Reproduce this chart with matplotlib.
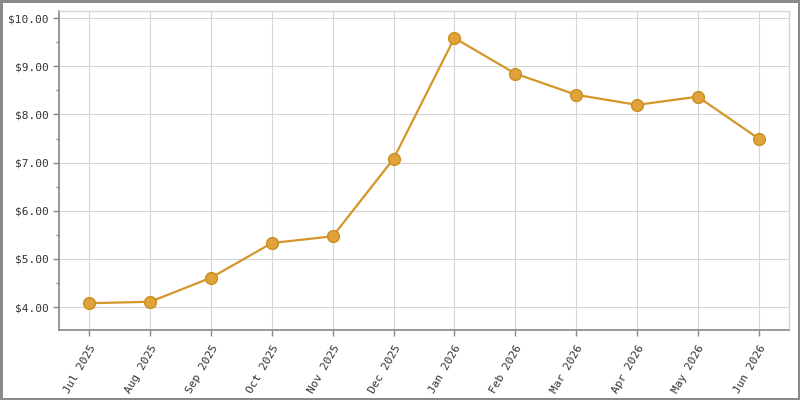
import matplotlib
matplotlib.use("Agg")
import matplotlib.pyplot as plt
from matplotlib.ticker import MultipleLocator, FuncFormatter

# monthly values
months = ["Jul 2025", "Aug 2025", "Sep 2025", "Oct 2025", "Nov 2025", "Dec 2025",
          "Jan 2026", "Feb 2026", "Mar 2026", "Apr 2026", "May 2026", "Jun 2026"]
prices = [4.08, 4.11, 4.61, 5.33, 5.47, 7.08, 9.59, 8.85, 8.41, 8.20, 8.37, 7.50]

plt.rcParams["font.family"] = ["DejaVu Sans Mono"]

fig = plt.figure(figsize=(8, 4), dpi=100)
fig.patch.set_facecolor("white")
fig.patch.set_edgecolor("#8a8a8a")
fig.patch.set_linewidth(2.5)
ax = fig.add_axes([0.07375, 0.174, 0.9125, 0.7985])

x = range(len(months))
ax.plot(x, prices, color="#d4962a", linewidth=1.6, marker="o", markersize=8.5,
        markerfacecolor="#e0a33a", markeredgecolor="#c98e22", markeredgewidth=1,
        zorder=3)

ax.set_xlim(-0.5, len(months) - 0.5)
ax.set_ylim(3.515, 10.15)
ax.set_xticks(list(x))
ax.set_xticklabels(months, rotation=60, ha="right", rotation_mode="anchor",
                   fontsize=8, color="#333333")
ax.yaxis.set_major_locator(MultipleLocator(1))
ax.yaxis.set_minor_locator(MultipleLocator(0.5))
ax.yaxis.set_major_formatter(FuncFormatter(lambda v, p: f"${v:.2f}"))

ax.grid(True, which="major", color="#d5d5d5", linewidth=0.8)
ax.set_axisbelow(True)
ax.tick_params(axis="both", which="major", length=4, width=1, color="#888888",
               labelsize=8, labelcolor="#333333")
ax.tick_params(axis="y", which="minor", length=2, width=1, color="#888888")
ax.tick_params(axis="x", pad=5)

for side in ("left", "bottom"):
    ax.spines[side].set_color("#888888")
    ax.spines[side].set_linewidth(1.2)
for side in ("top", "right"):
    ax.spines[side].set_color("#d5d5d5")
    ax.spines[side].set_linewidth(1)

fig.savefig("out.png", dpi=100, facecolor=fig.get_facecolor(),
            edgecolor=fig.get_edgecolor())
